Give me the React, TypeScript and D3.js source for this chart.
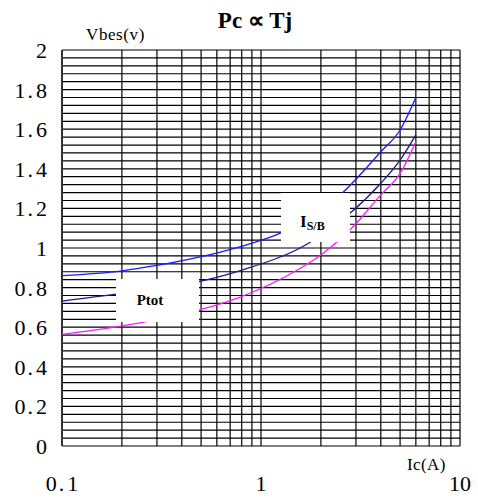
import React, { useEffect } from "react";
import * as d3 from "d3";

// curves: [Ic (A), Vbes (V)]
const blueCurve: [number, number][] = [
  [0.1, 0.86], [0.2, 0.885], [0.3, 0.912], [0.5, 0.956], [0.78, 1.006],
  [1.25, 1.075], [2.5, 1.268], [4, 1.486], [5, 1.596], [6, 1.76],
];
const navyCurve: [number, number][] = [
  [0.1, 0.732], [0.19, 0.768], [0.5, 0.833], [0.78, 0.885], [1.76, 1.028],
  [2.8, 1.175], [4, 1.327], [5, 1.444], [6, 1.571],
];
const magentaCurve: [number, number][] = [
  [0.1, 0.564], [0.25, 0.623], [0.5, 0.69], [0.78, 0.751], [1.5, 0.885],
  [2, 0.965], [2.8, 1.091], [4, 1.268], [5, 1.377], [6, 1.537],
];

const yTicks = [0, 0.2, 0.4, 0.6, 0.8, 1, 1.2, 1.4, 1.6, 1.8, 2];
const yTickLabels = ["0", "0.2", "0.4", "0.6", "0.8", "1", "1.2", "1.4", "1.6", "1.8", "2"];
const xTicks = [0.1, 1, 10];
const xTickLabels = ["0.1", "1", "10"];
const yGridStep = 0.04;

const W = 478;
const H = 500;
const serif = "'Liberation Serif', 'Times New Roman', serif";

// "1.8" drawn with the wide period of the original font
const wideDecimal = (s: string) => {
  const parts = s.split(".");
  if (parts.length < 2) return s;
  return (
    <>
      {parts[0]}
      <tspan dx={2}>.</tspan>
      <tspan dx={3}>{parts[1]}</tspan>
    </>
  );
};

const App = () => {
  useEffect(() => {
    document.body.style.margin = "0";
  }, []);

  const x = d3.scaleLog().domain([0.1, 10]).range([62, 460]);
  const y = d3.scaleLinear().domain([0, 2]).range([446, 50]);

  const hLines = d3.range(0, 2 / yGridStep + 1).map((i) => i * yGridStep);
  const vLines = x.ticks();

  const line = d3
    .line<[number, number]>()
    .x((d) => x(d[0]))
    .y((d) => y(d[1]))
    .curve(d3.curveMonotoneX);

  const curves = [
    { data: blueCurve, color: "#1a1aff" },
    { data: navyCurve, color: "#1c1c8a" },
    { data: magentaCurve, color: "#ff1aff" },
  ];

  return (
    <svg width={W} height={H} style={{ display: "block", background: "#fff" }}>
      {/* grid */}
      <g stroke="#000" strokeWidth={1.2}>
        {hLines.map((v, i) => (
          <line key={"h" + i} x1={x(0.1)} x2={x(10)} y1={y(v)} y2={y(v)} />
        ))}
        {vLines.map((v, i) => (
          <line key={"v" + i} x1={x(v)} x2={x(v)} y1={y(0)} y2={y(2)} />
        ))}
      </g>
      <line x1={x(0.1)} x2={x(0.1)} y1={y(0)} y2={y(2)} stroke="#333" strokeWidth={2} />

      {/* curves */}
      {curves.map((c, i) => (
        <path key={i} d={line(c.data) || ""} fill="none" stroke={c.color} strokeWidth={1.3} />
      ))}

      {/* label boxes */}
      <rect x={116} y={279} width={83} height={43} fill="#fff" />
      <text x={150} y={305} fontFamily={serif} fontWeight="bold" fontSize={15} textAnchor="middle">
        Ptot
      </text>
      <rect x={281} y={193} width={69} height={49} fill="#fff" />
      <text x={300} y={227} fontFamily={serif} fontWeight="bold" fontSize={17}>
        I<tspan fontSize={12} dy={3}>S/B</tspan>
      </text>

      {/* y tick labels */}
      {yTicks.map((v, i) => (
        <text key={"yt" + i} x={47} y={y(v) + 8} fontFamily={serif} fontSize={22} textAnchor="end">
          {wideDecimal(yTickLabels[i])}
        </text>
      ))}

      {/* x tick labels */}
      {xTicks.map((v, i) => (
        <text key={"xt" + i} x={x(v)} y={491} fontFamily={serif} fontSize={22} textAnchor="middle">
          {wideDecimal(xTickLabels[i])}
        </text>
      ))}

      {/* axis titles */}
      <text x={86} y={40} fontFamily={serif} fontSize={17} letterSpacing={0.6}>
        Vbes(v)
      </text>
      <text x={407} y={470} fontFamily={serif} fontSize={17} letterSpacing={0.4}>
        Ic(A)
      </text>

      {/* title */}
      <text x={255} y={28} fontFamily={serif} fontWeight="bold" fontSize={23} textAnchor="middle">
        Pc<tspan dx={6}>∝</tspan>
        <tspan dx={5}>Tj</tspan>
      </text>
    </svg>
  );
};

export default App;
